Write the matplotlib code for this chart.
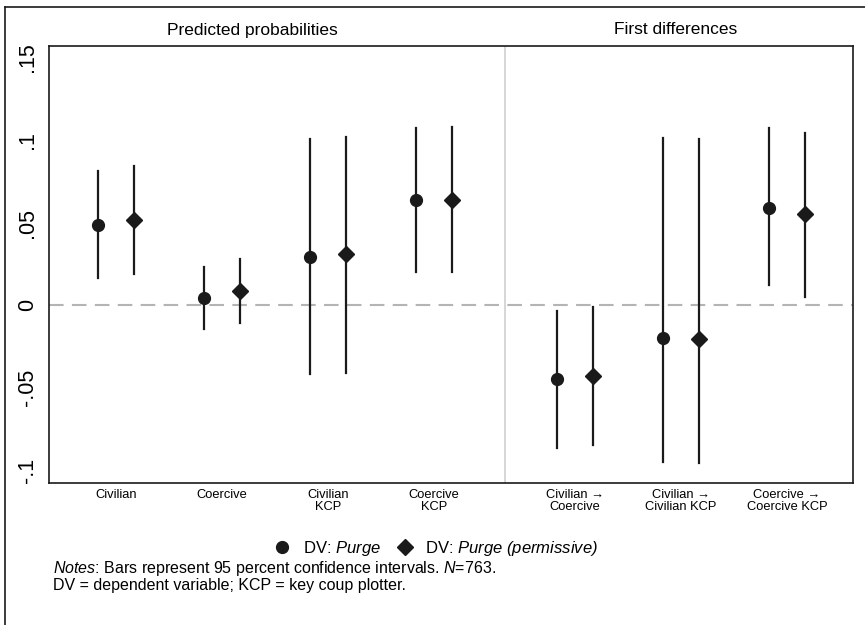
import matplotlib
matplotlib.use("Agg")
import matplotlib.pyplot as plt
from matplotlib.lines import Line2D

plt.rcParams['font.family'] = ['Liberation Sans', 'DejaVu Sans']
# math segments are only used for italic words, so make all math italic Arial-like
plt.rcParams['mathtext.fontset'] = 'custom'
plt.rcParams['mathtext.rm'] = 'Liberation Sans:italic'
plt.rcParams['mathtext.it'] = 'Liberation Sans:italic'
plt.rcParams['mathtext.default'] = 'it'

# categories (left panel: predicted probabilities, right panel: first differences)
categories = ["Civilian", "Coercive", "Civilian\nKCP", "Coercive\nKCP",
              "Civilian \u2192\nCoercive", "Civilian \u2192\nCivilian KCP",
              "Coercive \u2192\nCoercive KCP"]
xpos = [1, 2, 3, 4, 5.33, 6.33, 7.33]

# DV: Purge
purge_est = [0.0485, 0.0042, 0.029, 0.0636, -0.0448, -0.020, 0.0588]
purge_lo = [0.0164, -0.0145, -0.042, 0.020, -0.0867, -0.095, 0.012]
purge_hi = [0.081, 0.023, 0.1006, 0.107, -0.0036, 0.101, 0.107]

# DV: Purge (permissive)
perm_est = [0.0515, 0.0085, 0.031, 0.0636, -0.043, -0.0206, 0.055]
perm_lo = [0.0188, -0.011, -0.041, 0.020, -0.085, -0.0958, 0.005]
perm_hi = [0.084, 0.028, 0.102, 0.108, -0.0012, 0.1006, 0.104]

yticks = [-0.1, -0.05, 0, 0.05, 0.1, 0.15]
yticklabels = ["-.1", "-.05", "0", ".05", ".1", ".15"]

dark = "#1a1a1a"
off = 0.17

fig = plt.figure(figsize=(8.65, 6.25), dpi=100)
ax = fig.add_axes([49/865, 1 - 483/625, (853-49)/865, (483-46)/625])

ax.axhline(0, color="#b4b4b4", lw=1.5, ls=(0, (7, 4)), zorder=1)
ax.axvline(4.67, color="#d0d0d0", lw=1.2, zorder=1)

for i, x in enumerate(xpos):
    ax.plot([x - off, x - off], [purge_lo[i], purge_hi[i]], color=dark, lw=1.6, zorder=2)
    ax.plot(x - off, purge_est[i], marker="o", ms=8.5, color=dark, zorder=3)
    ax.plot([x + off, x + off], [perm_lo[i], perm_hi[i]], color=dark, lw=1.6, zorder=2)
    ax.plot(x + off, perm_est[i], marker="D", ms=8, color=dark, zorder=3)

ax.set_xlim(0.368, 7.953)
ax.set_ylim(-0.1079, 0.157)
ax.set_xticks(xpos)
ax.set_xticklabels(categories, fontsize=9.3, linespacing=1.0)
ax.set_yticks(yticks)
ax.set_yticklabels(yticklabels, fontsize=15.5, rotation=90, va="center")
ax.tick_params(axis="both", length=0)
ax.tick_params(axis="y", pad=8)
ax.tick_params(axis="x", pad=4)
for s in ax.spines.values():
    s.set_color(dark)
    s.set_linewidth(1.2)

fig.text(252/865, 1 - 30/625, "Predicted probabilities", ha="center", va="center", fontsize=12.5)
fig.text(676/865, 1 - 30/625, "First differences", ha="center", va="center", fontsize=12.5)

handles = [Line2D([], [], marker="o", ls="none", color=dark, ms=8.5),
           Line2D([], [], marker="D", ls="none", color=dark, ms=8)]
fig.legend(handles, ["DV: $Purge$", "DV: $Purge\\ (permissive)$"],
           loc="center", bbox_to_anchor=(432/865, 1 - 548/625), ncol=2, frameon=False,
           fontsize=12, handletextpad=0.25, columnspacing=0.4)

fig.text(53/865, 1 - 576/625, "$Notes$: Bars represent 95 percent confidence intervals. $N$=763.\n"
         "DV = dependent variable; KCP = key coup plotter.",
         ha="left", va="center", fontsize=11.5, linespacing=1.0)

# outer frame (left and top edges)
fig.add_artist(Line2D([5/865, 5/865], [0, 1 - 7/625], color=dark, lw=1.2))
fig.add_artist(Line2D([5/865, 1], [1 - 7/625, 1 - 7/625], color=dark, lw=1.2))

fig.savefig("out.png", dpi=100)
